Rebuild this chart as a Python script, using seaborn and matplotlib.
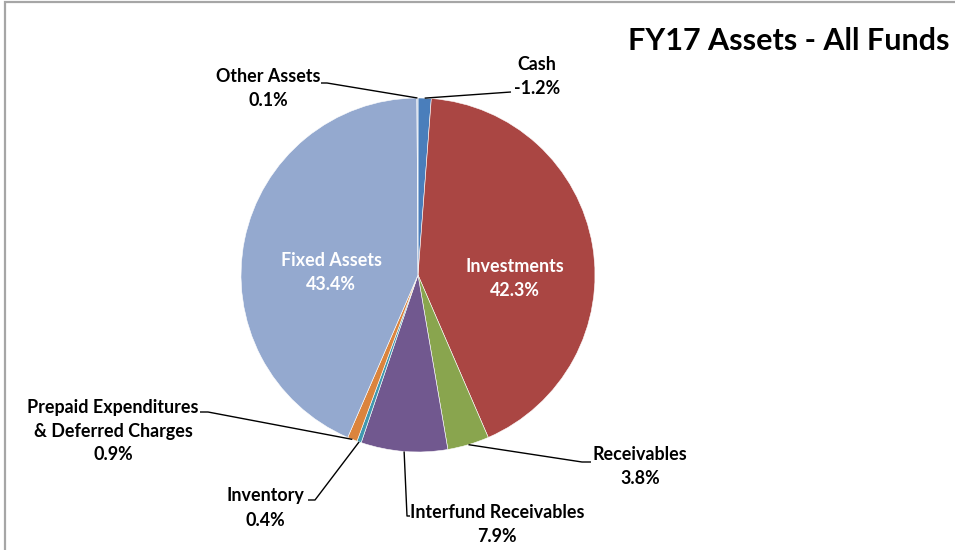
import numpy as np
import matplotlib
matplotlib.use("Agg")
import matplotlib.pyplot as plt
import seaborn as sns
from matplotlib.patches import Rectangle

# FY17 asset shares (percent of total), clockwise from 12 o'clock
categories = ['Cash', 'Investments', 'Receivables', 'Interfund Receivables',
              'Inventory', 'Prepaid Expenditures\n& Deferred Charges',
              'Fixed Assets', 'Other Assets']
shares = [-1.2, 42.3, 3.8, 7.9, 0.4, 0.9, 43.4, 0.1]
colors = ['#4A7EBB', '#AA4643', '#89A54E', '#71588F',
          '#4198AF', '#DB843D', '#94A9CF', '#B4C4DE']
title = 'FY17 Assets - All Funds'

W, H = 955, 550
CX, CY, R = 418, 275, 177   # pie centre / radius in pixels


def px(x, y):
    # pixel position -> pie data coords
    return (x - CX) / R, (CY - y) / R


# label layout in pixels: text centre, elbow point, line end at label
inside = {'Investments': (515, 279), 'Fixed Assets': (331, 273)}
outside = {
    'Cash': ((537, 76), None, (511, 92)),
    'Other Assets': ((268, 89), (327, 83), (321, 83)),
    'Receivables': ((640, 467), (582, 462), (591, 462)),
    'Interfund Receivables': ((497, 525), (407, 516), (410, 516)),
    'Inventory': ((265, 508), (315, 500), (308, 500)),
    'Prepaid Expenditures\n& Deferred Charges': ((113, 431), (208, 412), (200, 412)),
}

sns.set_theme(style='white')
plt.rcParams['font.family'] = ['Lato', 'DejaVu Sans']

fig = plt.figure(figsize=(W / 100, H / 100), dpi=100)
ax = fig.add_axes([(CX - R) / W, (H - CY - R) / H, 2 * R / W, 2 * R / H])
wedges, _ = ax.pie(np.abs(shares), colors=colors, startangle=90, counterclock=False,
                   radius=1, wedgeprops=dict(edgecolor='white', linewidth=0.4))
ax.set_xlim(-1, 1)
ax.set_ylim(-1, 1)
ax.set_aspect('equal')
ax.axis('off')

fs = 12.9
ls = 1.5
for w, name, val in zip(wedges, categories, shares):
    text = f'{name}\n{val:.1f}%'
    if name in inside:
        tx, ty = px(*inside[name])
        ax.text(tx, ty, text, ha='center', va='center', color='white',
                fontsize=fs, fontweight='bold', linespacing=ls)
        continue
    (tcx, tcy), elbow, end = outside[name]
    ang = np.deg2rad((w.theta1 + w.theta2) / 2)
    pts = [(np.cos(ang), np.sin(ang))]
    if elbow is not None:
        pts.append(px(*elbow))
    pts.append(px(*end))
    xs, ys = zip(*pts)
    ax.plot(xs, ys, color='black', lw=1, clip_on=False, solid_capstyle='butt')
    tx, ty = px(tcx, tcy)
    ax.text(tx, ty, text, ha='center', va='center', color='black',
            fontsize=fs, fontweight='bold', linespacing=ls, clip_on=False)

fig.text(949 / W, 1 - 41 / H, title, ha='right', va='center',
         fontsize=22, fontweight='bold', color='black')

# chart frame (only top and left edges are in view)
fig.add_artist(Rectangle((5 / W, -0.5), 2, 0.5 + (H - 2) / H, transform=fig.transFigure,
                         fill=False, edgecolor='#A6A6A6', linewidth=1.6))

fig.savefig('out.png', dpi=100, facecolor='white')
